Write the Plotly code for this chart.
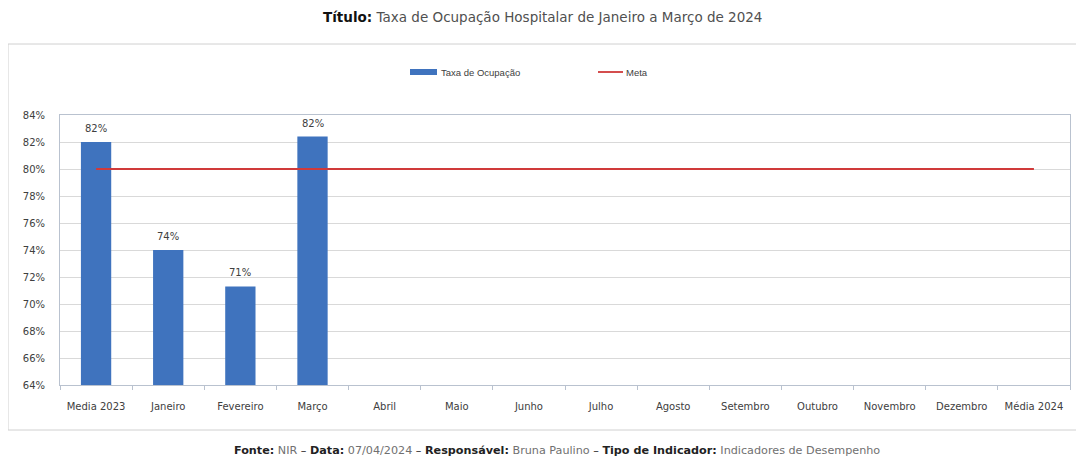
import plotly.graph_objects as go

categories = ["Media 2023", "Janeiro", "Fevereiro", "Março", "Abril", "Maio", "Junho",
              "Julho", "Agosto", "Setembro", "Outubro", "Novembro", "Dezembro", "Média 2024"]
taxa_ocupacao = [82.0, 74.0, 71.3, 82.4, None, None, None, None, None, None, None, None, None, None]
taxa_labels = ["82%", "74%", "71%", "82%", "", "", "", "", "", "", "", "", "", ""]
meta = [80] * 14
y_ticks = list(range(64, 85, 2))

OFF = 8  # page body margin
W, H = 1084 - OFF, 459 - OFF
ML, MR = 60 - OFF, 14
MT = 115 - OFF
MB = H - (385 - OFF)
PW, PH = W - ML - MR, H - MT - MB

def px(x):
    return (x - OFF - ML) / PW

def py(y):
    return (H - MB - (y - OFF)) / PH

BLUE = "#3F73BE"
RED = "#D03A3A"
TXT = "#404040"
TICKFONT = dict(family="DejaVu Sans", size=10, color=TXT)

fig = go.Figure()
fig.add_trace(go.Bar(x=categories, y=taxa_ocupacao, marker=dict(color=BLUE, line=dict(width=0)),
                     width=0.42, name="Taxa de Ocupação", showlegend=False))
fig.add_trace(go.Scatter(x=categories, y=meta, mode="lines", line=dict(color=RED, width=1.8),
                         name="Meta", showlegend=False))

annotations = []
for c, v, t in zip(categories, taxa_ocupacao, taxa_labels):
    if v is not None:
        annotations.append(dict(x=c, y=v, xref="x", yref="y", text=t, showarrow=False,
                                yanchor="bottom", yshift=6, font=TICKFONT))

# title
annotations.append(dict(xref="paper", yref="paper", x=px(542), y=py(17), xanchor="center", yanchor="middle",
                        showarrow=False,
                        text="<b>Título:</b> <span style='color:#505050'>Taxa de Ocupação Hospitalar de Janeiro a Março de 2024</span>",
                        font=dict(family="DejaVu Sans", size=13.5, color="#111111")))
# footer
annotations.append(dict(xref="paper", yref="paper", x=px(557), y=py(450), xanchor="center", yanchor="middle",
                        showarrow=False,
                        text="<b>Fonte:</b> <span style='color:#707070'>NIR</span> – <b>Data:</b> <span style='color:#707070'>07/04/2024</span> – "
                             "<b>Responsável:</b> <span style='color:#707070'>Bruna Paulino</span> – "
                             "<b>Tipo de Indicador:</b> <span style='color:#707070'>Indicadores de Desempenho</span>",
                        font=dict(family="DejaVu Sans", size=11.2, color="#222222")))
# legend texts
annotations.append(dict(xref="paper", yref="paper", x=px(439), y=py(72), xanchor="left", yanchor="middle",
                        showarrow=False, text="Taxa de Ocupação",
                        font=dict(family="Liberation Sans", size=9.5, color=TXT)))
annotations.append(dict(xref="paper", yref="paper", x=px(624), y=py(72), xanchor="left", yanchor="middle",
                        showarrow=False, text="Meta",
                        font=dict(family="Liberation Sans", size=9.5, color=TXT)))

shapes = [
    # outer chart box
    dict(type="rect", xref="paper", yref="paper", x0=px(8), x1=px(1077), y0=py(430), y1=py(44),
         line=dict(color="#D0D0D0", width=1), fillcolor="rgba(0,0,0,0)", layer="below"),
    # legend symbols
    dict(type="rect", xref="paper", yref="paper", x0=px(410), x1=px(437), y0=py(75), y1=py(69),
         line=dict(width=0), fillcolor=BLUE),
    dict(type="line", xref="paper", yref="paper", x0=px(598), x1=px(623), y0=py(72), y1=py(72),
         line=dict(color=RED, width=1.8)),
]

fig.update_layout(
    width=W, height=H,
    margin=dict(l=ML, r=MR, t=MT, b=MB),
    paper_bgcolor="white", plot_bgcolor="white",
    showlegend=False,
    annotations=annotations,
    shapes=shapes,
    font=dict(family="DejaVu Sans", size=10, color=TXT),
)
fig.update_xaxes(type="category", categoryorder="array", categoryarray=categories,
                 showline=True, linecolor="#B9C2CF", linewidth=1, mirror=True,
                 ticks="outside", tickson="boundaries", ticklen=4, tickcolor="#B9C2CF",
                 ticklabelstandoff=12,
                 showgrid=False, tickfont=TICKFONT,
                 range=[-0.5, 13.5])
fig.update_yaxes(range=[64, 84], tickvals=y_ticks, ticktext=[f"{v}%" for v in y_ticks],
                 showline=True, linecolor="#B9C2CF", linewidth=1, mirror=True,
                 showgrid=True, gridcolor="#D9D9D9", gridwidth=1, zeroline=False,
                 ticks="", ticklabelstandoff=12, tickfont=TICKFONT)

fig.write_html("out.html")
